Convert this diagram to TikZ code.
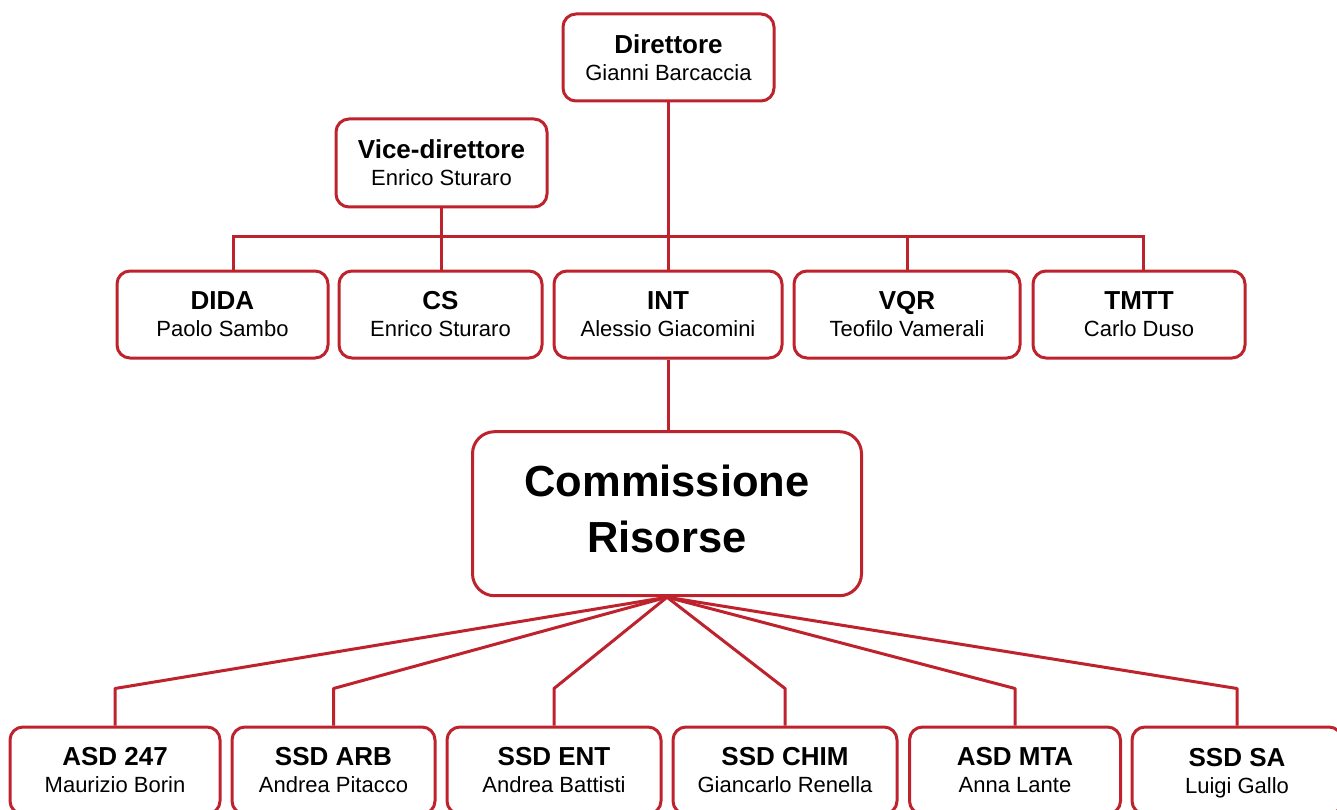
\documentclass[tikz,border=0pt]{standalone}
\usepackage{fontspec}
\setmainfont{Liberation Sans}
\definecolor{orgred}{RGB}{190,34,45}

\begin{document}
\begin{tikzpicture}[x=1pt,y=-1pt,
    box/.style={draw=orgred, line width=3pt, rounded corners=13pt, fill=white,
      align=center, minimum height=87pt, inner sep=0pt,
      font=\fontsize{22}{27}\selectfont},
    link/.style={orgred, line width=3pt}]

    \clip (0,0) rectangle (1337,810);
    \fill[white] (0,0) rectangle (1337,810);

    % top
    \node[box, minimum width=211pt] (dir) at (668.5,57.5) {\textbf{\fontsize{26}{27}\selectfont Direttore}\\Gianni Barcaccia};
    \node[box, minimum width=211pt, minimum height=88pt] (vice) at (441.5,163) {\textbf{\fontsize{26}{27}\selectfont Vice-direttore}\\Enrico Sturaro};

    % second row
    \node[box, minimum width=211pt] (dida) at (222.5,314.5) {\textbf{\fontsize{26}{27}\selectfont DIDA}\\Paolo Sambo};
    \node[box, minimum width=203pt] (cs) at (440.5,314.5) {\textbf{\fontsize{26}{27}\selectfont CS}\\Enrico Sturaro};
    \node[box, minimum width=228pt] (int) at (668,314.5) {\textbf{\fontsize{26}{27}\selectfont INT}\\Alessio Giacomini};
    \node[box, minimum width=226pt] (vqr) at (907,314.5) {\textbf{\fontsize{26}{27}\selectfont VQR}\\Teofilo Vamerali};
    \node[box, minimum width=212pt] (tmtt) at (1139,314.5) {\textbf{\fontsize{26}{27}\selectfont TMTT}\\Carlo Duso};

    % commissione
    \node[box, minimum width=389pt, minimum height=164pt, rounded corners=22pt, text depth=10pt,
      font=\fontsize{43.5}{56}\selectfont\bfseries] (comm) at (667,513.7) {Commissione\\Risorse};

    % bottom row
    \node[box, minimum width=210pt] (asd) at (115,770.5) {\textbf{\fontsize{26}{27}\selectfont ASD 247}\\Maurizio Borin};
    \node[box, minimum width=203pt] (arb) at (333.5,770.5) {\textbf{\fontsize{26}{27}\selectfont SSD ARB}\\Andrea Pitacco};
    \node[box, minimum width=214pt] (ent) at (554,770.5) {\textbf{\fontsize{26}{27}\selectfont SSD ENT}\\Andrea Battisti};
    \node[box, minimum width=224pt] (chim) at (785,770.5) {\textbf{\fontsize{26}{27}\selectfont SSD CHIM}\\Giancarlo Renella};
    \node[box, minimum width=211pt] (mta) at (1015,770.5) {\textbf{\fontsize{26}{27}\selectfont ASD MTA}\\Anna Lante};
    \node[box, minimum width=210pt] (sa) at (1237,770.5) {\textbf{\fontsize{26}{27}\selectfont SSD SA}\\\raisebox{0pt}[\height][0pt]{Luigi Gallo}};

    % bus
    \coordinate (busL) at (233,237);
    \coordinate (busR) at (1143,237);
    \draw[link] (dida.north -| busL) -- (busL) -- (busR) -- (busR |- tmtt.north);
    \draw[link] (dir.south -| int.north) -- (int.north);
    \draw[link] (vice.south) -- (vice.south |- cs.north);
    \draw[link] (vqr.north |- busL) -- (vqr.north);
    \draw[link] (int.south) -- (comm.north -| int.south);

    % fan
    \foreach \n in {asd,arb,ent,chim,mta,sa}
      \draw[link, line join=round] (comm.south) -- ([yshift=37pt]\n.north) -- (\n.north);
\end{tikzpicture}
\end{document}
